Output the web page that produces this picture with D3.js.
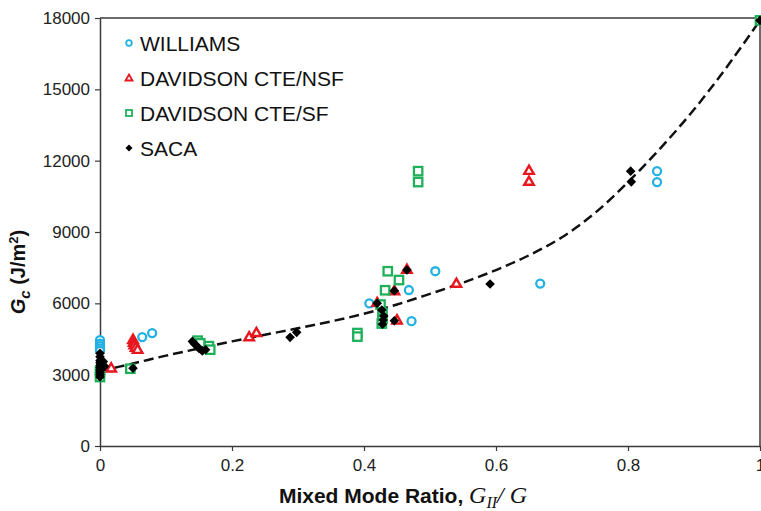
<!DOCTYPE html>
<html><head><meta charset="utf-8">
<script src="https://cdn.jsdelivr.net/npm/d3@7"></script>
<style>body{margin:0;background:#fff}svg{display:block;font-family:Arial,"Liberation Sans",sans-serif}</style>
</head><body><svg id="c" width="761" height="511"></svg>
<script>
const xTicks=[0,0.2,0.4,0.6,0.8,1];
const yTicks=[0,3000,6000,9000,12000,15000,18000];
const seriesNames=["WILLIAMS","DAVIDSON CTE/NSF","DAVIDSON CTE/SF","SACA"];
const williamsX=[0,0,0,0,0,0.064,0.079,0.408,0.427,0.468,0.472,0.508,0.667,0.844,0.844];
const williamsY=[4450,4300,4200,4100,4000,4580,4750,6000,5150,6560,5250,7350,6830,11560,11100];
const nsfX=[0.017,0.05,0.051,0.052,0.054,0.057,0.226,0.237,0.42,0.446,0.45,0.465,0.54,0.65,0.65];
const nsfY=[3250,4450,4330,4220,4120,4030,4560,4740,6000,6500,5270,7400,6810,11560,11100];
const sfX=[0,0,0.046,0.148,0.152,0.165,0.167,0.39,0.39,0.425,0.428,0.428,0.427,0.432,0.436,0.453,0.482,0.482,1];
const sfY=[3150,2900,3250,4430,4320,4200,4050,4750,4600,5950,5600,5350,5150,6550,7350,6980,11560,11100,17900];
const sacaX=[0,0,0,0,0,0,0,0,0,0,0.005,0.007,0.05,0.14,0.143,0.147,0.15,0.155,0.16,0.288,0.298,0.42,0.427,0.43,0.429,0.428,0.446,0.446,0.465,0.591,0.804,0.805,1];
const sacaY=[3900,3750,3600,3500,3400,3300,3200,3100,3000,2900,3550,3350,3270,4400,4300,4200,4100,4000,4050,4570,4780,6000,5720,5470,5300,5120,6530,5270,7400,6810,11560,11110,17900];
const fitX=[0,0.05,0.1,0.15,0.2,0.25,0.3,0.35,0.4,0.45,0.5,0.55,0.6,0.65,0.7,0.75,0.8,0.85,0.9,0.95,1];
const fitY=[3150,3470,3800,4100,4400,4680,4950,5240,5560,5950,6400,6870,7400,8020,8780,9800,11100,12550,14150,15950,17900];

const svg=d3.select("#c");
const L=100,R=760,T=18,B=446;
const x=d3.scaleLinear().domain([0,1]).range([L,R]);
const y=d3.scaleLinear().domain([0,18000]).range([B,T]);
const axisCol="#3a3a3a";

svg.append("line").attr("x1",L).attr("x2",R).attr("y1",T).attr("y2",T).attr("stroke",axisCol).attr("stroke-width",1.5);
svg.append("line").attr("x1",R).attr("x2",R).attr("y1",T).attr("y2",B).attr("stroke",axisCol).attr("stroke-width",1.5);

const gx=svg.append("g").attr("transform",`translate(0,${B})`)
 .call(d3.axisBottom(x).tickValues(xTicks).tickSize(5).tickSizeOuter(0).tickFormat(d=>d===0||d===1?String(d):d3.format(".1f")(d)));
const gy=svg.append("g").attr("transform",`translate(${L},0)`)
 .call(d3.axisLeft(y).tickValues(yTicks).tickSize(5).tickSizeOuter(0).tickFormat(d3.format("d")));
[gx,gy].forEach(g=>{g.select(".domain").attr("stroke",axisCol).attr("stroke-width",1.5);
 g.selectAll(".tick line").attr("stroke",axisCol).attr("stroke-width",1.2);
 g.selectAll(".tick text").attr("fill","#222").style("font-size","17px").style("font-family","Arial, 'Liberation Sans', sans-serif");});
gx.selectAll(".tick text").attr("dy","1.0em");
gy.selectAll(".tick text").attr("x",-10);

const line=d3.line().x((d,i)=>x(fitX[i])).y((d,i)=>y(fitY[i])).curve(d3.curveCatmullRom);
svg.append("path").attr("d",line(fitX)).attr("fill","none").attr("stroke","#111").attr("stroke-width",2.5).attr("stroke-dasharray","10,5");

const cyan="#22b1e3",red="#e8161e",green="#1fb15a";
function circles(xs,ys,g){xs.forEach((v,i)=>g.append("circle").attr("cx",x(v)).attr("cy",y(ys[i])).attr("r",4).attr("fill","#fff").attr("stroke",cyan).attr("stroke-width",2.3));}
function tri(cx,cy,s){const h=s*0.866;return `M${cx},${cy-h*2/3}L${cx+s/2},${cy+h/3}L${cx-s/2},${cy+h/3}Z`;}
function tris(xs,ys,g){xs.forEach((v,i)=>g.append("path").attr("d",tri(x(v),y(ys[i]),9.5)).attr("fill","#fff").attr("stroke",red).attr("stroke-width",2.4));}
function squares(xs,ys,g){xs.forEach((v,i)=>g.append("rect").attr("x",x(v)-4.2).attr("y",y(ys[i])-4.2).attr("width",8.4).attr("height",8.4).attr("fill","#fff").attr("stroke",green).attr("stroke-width",2.3));}
function dia(cx,cy,s){return `M${cx},${cy-s}L${cx+s},${cy}L${cx},${cy+s}L${cx-s},${cy}Z`;}
function diamonds(xs,ys,g){xs.forEach((v,i)=>g.append("path").attr("d",dia(x(v),y(ys[i]),4.8)).attr("fill","#000"));}

const pg=svg.append("g");
circles(williamsX,williamsY,pg);
tris(nsfX,nsfY,pg);
squares(sfX,sfY,pg);
diamonds(sacaX,sacaY,pg);

const lg=svg.append("g");
const ly=[43,78,113,148];
const lf="Arial, 'Liberation Sans', sans-serif";
lg.append("circle").attr("cx",129).attr("cy",ly[0]).attr("r",2.8).attr("fill","#fff").attr("stroke",cyan).attr("stroke-width",1.8);
lg.append("path").attr("d",tri(129,ly[1]+0.5,7)).attr("fill","#fff").attr("stroke",red).attr("stroke-width",1.8);
lg.append("rect").attr("x",126).attr("y",ly[2]-3).attr("width",6).attr("height",6).attr("fill","#fff").attr("stroke",green).attr("stroke-width",1.8);
lg.append("path").attr("d",dia(129,ly[3],3.5)).attr("fill","#000");
seriesNames.forEach((s,i)=>lg.append("text").attr("x",140).attr("y",ly[i]).attr("dy","0.36em").style("font-size","21px").style("font-family",lf).attr("fill","#111").text(s));

const sf="'Times New Roman','Liberation Serif',serif";
const xt=svg.append("text").attr("x",403).attr("y",503).attr("text-anchor","middle").style("font-size","21px").style("font-family",lf).style("font-weight","bold").attr("fill","#111");
xt.append("tspan").text("Mixed Mode Ratio, ");
xt.append("tspan").style("font-family",sf).style("font-style","italic").style("font-weight","normal").style("font-size","24px").text("G");
xt.append("tspan").style("font-family",sf).style("font-style","italic").style("font-weight","normal").style("font-size","16px").attr("dy",5).text("II");
xt.append("tspan").style("font-family",sf).style("font-style","italic").style("font-weight","normal").style("font-size","24px").attr("dy",-5).text("/ G");

const yt=svg.append("text").attr("transform","translate(25,272) rotate(-90)").attr("text-anchor","middle").style("font-size","20px").style("font-family",lf).style("font-weight","bold").attr("fill","#111");
yt.append("tspan").style("font-style","italic").text("G");
yt.append("tspan").style("font-style","italic").style("font-size","15px").attr("dy",5).text("c");
yt.append("tspan").attr("dy",-5).text(" (J/m");
yt.append("tspan").style("font-size","13px").attr("dy",-7).text("2");
yt.append("tspan").attr("dy",7).text(")");
</script></body></html>
